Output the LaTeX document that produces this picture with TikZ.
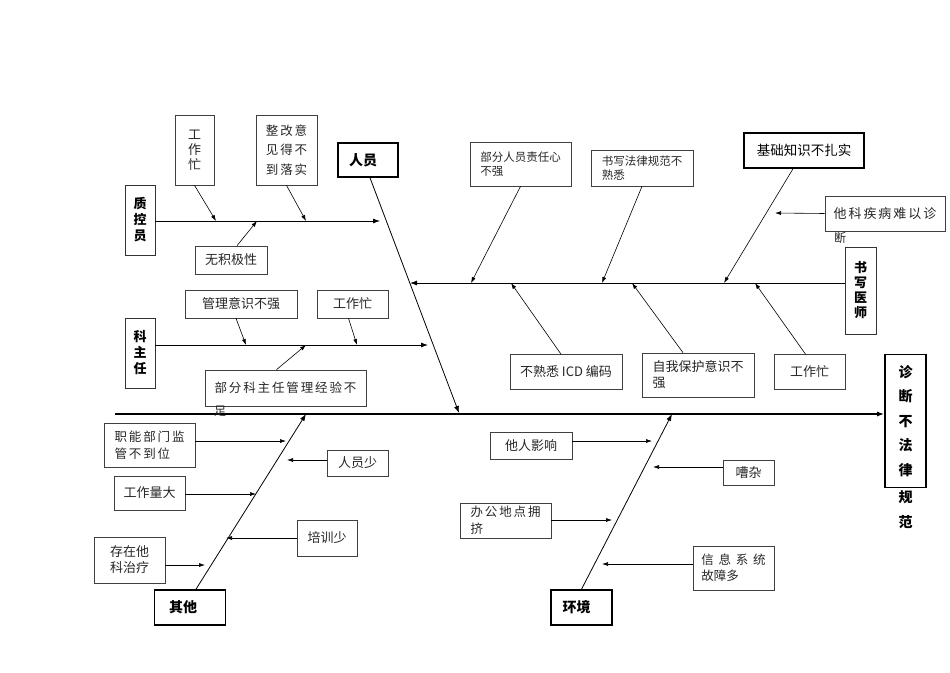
\documentclass[tikz,border=0pt]{standalone}
\usepackage{fontspec}
\setmainfont{Noto Sans CJK SC}
\newfontfamily\widecjk[LetterSpace=15]{Noto Sans CJK SC}
\usetikzlibrary{arrows.meta}
\tikzset{
  size/.style 2 args={minimum width=#1pt,minimum height=#2pt},
  box/.style={draw=black!75,line width=0.7pt,inner sep=0pt,align=left,text=black!85,
    font=\fontsize{13}{16}\selectfont},
  wbox/.style={box,font=\widecjk\fontsize{12.5}{17}\selectfont},
  keybox/.style={draw,line width=1.6pt,inner sep=0pt,font=\fontsize{14}{17}\selectfont\bfseries},
  vbox/.style={draw=black!80,line width=0.8pt,inner sep=0pt,align=center,
    font=\fontsize{13}{16}\selectfont\bfseries},
  bone/.style={line width=0.8pt,-{Latex[length=7pt,width=5pt]}},
  twig/.style={line width=0.6pt,-{Latex[length=6pt,width=4pt]}},
}
\begin{document}
\begin{tikzpicture}[x=1pt,y=-1pt]
\useasboundingbox (0,0) rectangle (950,672);

% effect and spine
\node[keybox,size={41}{133},align=center,font=\fontsize{14}{24.5}\selectfont\bfseries] (effect) at (905.5,421) {诊\\断\\不\\法\\律};
\node[inner sep=0pt,align=center,font=\fontsize{14}{24.5}\selectfont\bfseries] (effectrest) at (905.5,509.5) {规\\范};
\coordinate (spL) at (115,414);
\draw[line width=1.6pt,-{Latex[length=7pt,width=5pt]}] (spL) -- (spL -| effect.west);

% 人员
\node[keybox,size={60}{34}] (pers) at (368,160) {人员\hspace*{10pt}};
\coordinate (persEnd) at (459,413);
\draw[bone] ([xshift=2pt]pers.south) -- (persEnd);

% 质控员
\node[vbox,size={30}{70}] (qc) at (140,220) {质\\控\\员};
\coordinate (qcEnd) at (380,221);
\draw[bone] (qc.east |- qcEnd) -- (qcEnd);
\node[box,size={39}{70},align=center,font=\fontsize{13}{15}\selectfont] (qcBusy) at (194.5,150) {工\\作\\忙};
\node[wbox,size={61}{70},font=\widecjk\fontsize{12.5}{19.5}\selectfont] (qcFix) at (286.5,150) {整改意\\见得不\\到落实};
\node[box,size={72}{28}] (qcMotiv) at (231,260) {无积极性};
\coordinate (qc1) at (216,221);
\coordinate (qc2) at (306,221);
\coordinate (qc3) at (257,221);
\draw[twig] (qcBusy.south) -- (qc1);
\draw[twig] (qcFix.south) -- (qc2);
\draw[twig] ([xshift=6pt]qcMotiv.north) -- (qc3);

% 书写医师
\node[vbox,size={31}{87},font=\fontsize{13}{15}\selectfont\bfseries] (doc) at (860.5,290.5) {书\\写\\医\\师};
\coordinate (docEnd) at (410,283);
\draw[bone] (doc.west |- docEnd) -- (docEnd);
\node[box,size={101}{44},font=\fontsize{11.5}{13.5}\selectfont] (docDuty) at (520.5,164) {部分人员责任心\\不强};
\node[box,size={102}{36},font=\fontsize{11.5}{14}\selectfont] (docLaw) at (642,168) {书写法律规范不\\熟悉};
\node[keybox,size={120}{35},font=\fontsize{13.5}{15}\selectfont] (docBase) at (804,150.5) {基础知识不扎实};
\node[wbox,size={120}{35},font=\widecjk\fontsize{13}{15}\selectfont] (docHard) at (885,213.5) {他科疾病难以诊};
\node[inner sep=0pt,text=black!85,font=\fontsize{12}{15}\selectfont] (docHardRest) at (840,238) {断};
\node[box,size={112}{35}] (docICD) at (566,372) {不熟悉 ICD 编码};
\node[box,size={112}{44}] (docSelf) at (698,375) {自我保护意识不\\强};
\node[box,size={71}{35}] (docBusy) at (809.5,372) {工作忙};
\coordinate (doc1) at (471,283);
\coordinate (doc2) at (602,283);
\coordinate (doc3) at (724,283);
\coordinate (doc4) at (775,213);
\coordinate (doc5) at (511,283);
\coordinate (doc6) at (632,283);
\coordinate (doc7) at (755,283);
\draw[twig] (docDuty.south) -- (doc1);
\draw[twig] (docLaw.south) -- (doc2);
\draw[twig] ([xshift=-11pt]docBase.south) -- (doc3);
\draw[twig] (docHard.west) -- (doc4);
\draw[twig] ([xshift=-5pt]docICD.north) -- (doc5);
\draw[twig] ([xshift=-15pt]docSelf.north) -- (doc6);
\draw[twig] ([xshift=-4pt]docBusy.north) -- (doc7);

% 科主任
\node[vbox,size={30}{70}] (head) at (140,353) {科\\主\\任};
\coordinate (headEnd) at (428,345);
\draw[bone] (head.east |- headEnd) -- (headEnd);
\node[box,size={112}{28}] (headMgmt) at (241,304) {管理意识不强};
\node[box,size={71}{28}] (headBusy) at (352.5,304) {工作忙};
\node[wbox,size={161}{36}] (headExp) at (285.5,388) {部分科主任管理经验不};
\node[inner sep=0pt,text=black!85,font=\fontsize{12}{15}\selectfont] (headExpRest) at (220,411) {足};
\coordinate (head1) at (246,345);
\coordinate (head2) at (357,345);
\coordinate (head3) at (306,345);
\draw[twig] ([xshift=-5pt]headMgmt.south) -- (head1);
\draw[twig] ([xshift=-4pt]headBusy.south) -- (head2);
\draw[twig] ([xshift=-9pt]headExp.north) -- (head3);

% 其他
\node[keybox,size={71}{35}] (other) at (190,607.5) {其他\hspace*{14pt}};
\coordinate (otherEnd) at (306,414);
\draw[bone] ([xshift=6pt]other.north) -- (otherEnd);
\node[wbox,size={91}{44}] (otherDept) at (149.5,445) {职能部门监\\管不到位};
\node[box,size={61}{26}] (otherStaff) at (357.5,463) {人员少};
\node[box,size={71}{34}] (otherLoad) at (149.5,493) {工作量大};
\node[box,size={60}{36}] (otherTrain) at (327,538) {培训少};
\node[box,size={71}{46}] (otherElse) at (129.5,560) {存在他\\科治疗};
\coordinate (other1) at (286,441);
\coordinate (other2) at (287,460);
\coordinate (other3) at (256,494);
\coordinate (other4) at (226,538);
\coordinate (other5) at (205,565);
\draw[twig] (otherDept.east |- other1) -- (other1);
\draw[twig] (otherStaff.west |- other2) -- (other2);
\draw[twig] (otherLoad.east |- other3) -- (other3);
\draw[twig] (otherTrain.west) -- (other4);
\draw[twig] (otherElse.east |- other5) -- (other5);

% 环境
\node[keybox,size={61}{35}] (env) at (581.5,607.5) {环境\hspace*{10pt}};
\coordinate (envEnd) at (672,414);
\draw[bone] (env.north) -- (envEnd);
\node[box,size={82}{27}] (envOthers) at (531,445.5) {他人影响};
\node[box,size={51}{25}] (envNoise) at (748.5,472.5) {嘈杂};
\node[wbox,size={91}{35}] (envCrowd) at (505.5,520.5) {办公地点拥\\挤};
\node[box,size={81}{44},font=\fontsize{12.5}{16}\selectfont] (envIT) at (733.5,568) {{\widecjk 信 息 系 统}\\故障多};
\coordinate (env1) at (652,441);
\coordinate (env2) at (653,467);
\coordinate (env3) at (612,520);
\coordinate (env4) at (602,564);
\draw[twig] (envOthers.east |- env1) -- (env1);
\draw[twig] (envNoise.west |- env2) -- (env2);
\draw[twig] (envCrowd.east |- env3) -- (env3);
\draw[twig] (envIT.west |- env4) -- (env4);
\end{tikzpicture}
\end{document}
